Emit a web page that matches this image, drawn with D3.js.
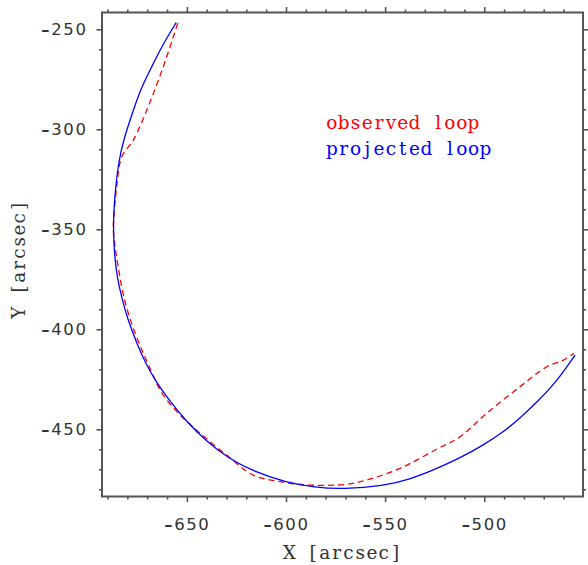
<!DOCTYPE html>
<html>
<head>
<meta charset="utf-8">
<script src="https://cdn.jsdelivr.net/npm/d3@7"></script>
<style>
  html, body { margin: 0; padding: 0; background: #fff; }
  svg { display: block; }
</style>
</head>
<body>
<svg id="chart" width="588" height="565"></svg>
<script>
// Observed loop (dashed red), X / Y in arcsec
const observedX = [-654.6, -661.9, -670.2, -677.0, -682.8, -685.4, -686.7, -687.1, -686.2, -684.5,
                   -682.0, -678.1, -673.1, -669.1, -666.0, -661.9, -652.6, -643.3, -629.9, -616.5,
                   -603.0, -587.9, -569.4, -559.3, -542.5, -524.0, -512.2, -498.8, -482.0, -468.5,
                   -460.1, -454.7];
const observedY = [-247.0, -268.7, -290.4, -305.4, -313.7, -328.7, -341.9, -350.4, -358.7, -369.5,
                   -382.9, -396.4, -409.4, -418.4, -425.4, -432.9, -443.7, -452.0, -462.9, -472.9,
                   -476.2, -477.9, -477.5, -475.4, -469.5, -460.0, -453.7, -442.0, -428.7, -418.7,
                   -415.4, -412.0];

// Projected loop (solid blue), X / Y in arcsec
const projectedX = [-655.4, -662.0, -667.7, -673.1, -677.0, -682.0, -684.4, -685.8, -686.8, -687.1,
                    -686.5, -685.2, -682.8, -679.7, -675.1, -670.6, -666.0, -659.5, -650.1, -640.0,
                    -629.2, -615.6, -600.5, -585.4, -571.1, -550.9, -537.4, -525.7, -512.2, -500.5,
                    -490.5, -482.0, -472.9, -465.2, -458.8, -454.2];
const projectedY = [-246.7, -257.4, -268.7, -279.4, -290.4, -305.4, -316.4, -327.9, -339.4, -350.4,
                    -362.9, -373.9, -384.5, -395.4, -407.4, -417.4, -425.4, -434.9, -446.2, -456.2,
                    -464.4, -471.4, -476.4, -479.1, -479.9, -478.4, -474.9, -470.4, -464.4, -457.9,
                    -451.4, -444.5, -435.9, -427.9, -419.4, -412.9];

// Axis tick values
const xMajorTicks = [-650, -600, -550, -500];
const yMajorTicks = [-450, -400, -350, -300, -250];
const xDomain = [-692.8, -450.2];
const yDomain = [-483.6, -241.6];

const legendLabels = ["observed loop", "projected loop"];
const legendColors = ["#ff0000", "#0000ff"];

const svg = d3.select("#chart");
const plotLeft = 102, plotRight = 583, plotTop = 12.5, plotBottom = 496.5;

const x = d3.scaleLinear().domain(xDomain).range([plotLeft, plotRight]);
const y = d3.scaleLinear().domain(yDomain).range([plotBottom, plotTop]);

const minorX = d3.range(-690, -450, 10).filter(v => v % 50 !== 0);
const minorY = d3.range(-480, -240, 10).filter(v => v % 50 !== 0);

const axisColor = "#555";
const textColor = "#333";

function styleAxis(g) {
  g.select(".domain").remove();
  g.selectAll(".tick line").attr("stroke", axisColor).attr("stroke-width", 1.6);
}

// Major + minor ticks on all four sides, outward
const sides = [
  { make: d3.axisBottom, scale: x, tr: `translate(0,${plotBottom})`, labelled: true, isX: true },
  { make: d3.axisTop, scale: x, tr: `translate(0,${plotTop})`, labelled: false, isX: true },
  { make: d3.axisLeft, scale: y, tr: `translate(${plotLeft},0)`, labelled: true, isX: false },
  { make: d3.axisRight, scale: y, tr: `translate(${plotRight},0)`, labelled: false, isX: false }
];
sides.forEach(s => {
  svg.append("g").attr("transform", s.tr)
    .call(s.make(s.scale).tickValues(s.isX ? minorX : minorY).tickSize(3).tickFormat(""))
    .call(styleAxis);
  const g = svg.append("g").attr("transform", s.tr)
    .call(s.make(s.scale).tickValues(s.isX ? xMajorTicks : yMajorTicks)
      .tickSize(5.5).tickPadding(s.isX ? 16 : 9)
      .tickFormat(s.labelled ? d3.format("d") : ""))
    .call(styleAxis);
  if (s.labelled) {
    g.selectAll(".tick text")
      .attr("fill", textColor)
      .style("font-family", "'DejaVu Sans', sans-serif")
      .style("font-size", "16.5px")
      .style("letter-spacing", "1.6px")
      .each(function (d) {
        const t = d3.select(this).text("");
        t.append("tspan").attr("font-weight", "bold").text(d < 0 ? "\u2013" : "");
        t.append("tspan").text(String(Math.abs(d)));
      });
  }
});

// Plot frame
svg.append("rect")
  .attr("x", plotLeft).attr("y", plotTop)
  .attr("width", plotRight - plotLeft).attr("height", plotBottom - plotTop)
  .attr("fill", "none").attr("stroke", axisColor).attr("stroke-width", 2);

// Loops
const obsLine = d3.line().x(d => x(d[0])).y(d => y(d[1])).curve(d3.curveCatmullRom.alpha(0.5));
const projLine = d3.line().x(d => x(d[0])).y(d => y(d[1])).curve(d3.curveBasis);

svg.append("path")
  .datum(observedX.map((v, i) => [v, observedY[i]]))
  .attr("d", obsLine)
  .attr("fill", "none").attr("stroke", "#ff0000")
  .attr("stroke-width", 1.3).attr("stroke-dasharray", "6,4");

svg.append("path")
  .datum(projectedX.map((v, i) => [v, projectedY[i]]))
  .attr("d", projLine)
  .attr("fill", "none").attr("stroke", "#0000ff")
  .attr("stroke-width", 1.3);

// Typewriter-style text: every character sits on a fixed pitch
const PITCH = 11.8;
function monoText(parent, str, x0, y0, anchor) {
  const total = str.length * PITCH;
  const start = anchor === "middle" ? x0 - total / 2 : x0;
  const xs = Array.from(str, (c, i) => (start + PITCH * (i + 0.5)).toFixed(2)).join(" ");
  return parent.append("text")
    .attr("x", xs).attr("y", y0)
    .attr("text-anchor", "middle")
    .style("font-family", "'DejaVu Serif', 'Liberation Serif', serif")
    .style("font-size", "18.5px")
    .style("white-space", "pre")
    .attr("xml:space", "preserve")
    .text(str);
}

// Legend
legendLabels.forEach((label, i) => {
  monoText(svg, label, 326, 129 + i * 26, "start").attr("fill", legendColors[i]);
});

// Axis titles
monoText(svg, "X [arcsec]", (plotLeft + plotRight) / 2, 559, "middle").attr("fill", textColor);

const yTitle = svg.append("g")
  .attr("transform", `translate(25,${(plotTop + plotBottom) / 2 + 5}) rotate(-90)`);
monoText(yTitle, "Y [arcsec]", 0, 0, "middle").attr("fill", textColor);
</script>
</body>
</html>
